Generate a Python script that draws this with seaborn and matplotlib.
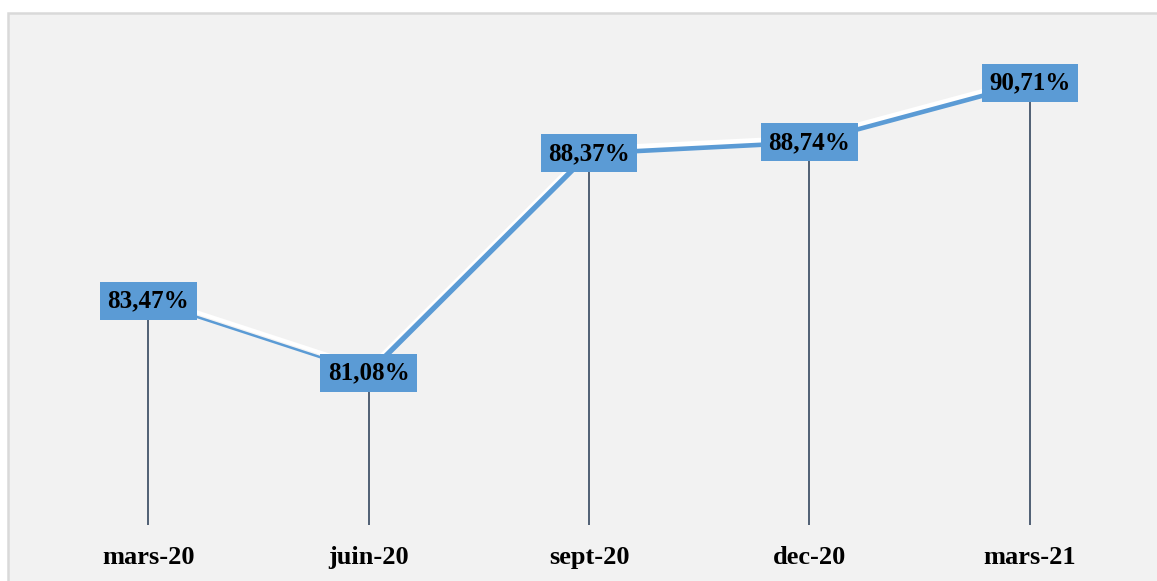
import matplotlib
matplotlib.use("Agg")
import matplotlib.pyplot as plt
import matplotlib.patheffects as pe
import seaborn as sns
import pandas as pd

# data
periods = ["mars-20", "juin-20", "sept-20", "dec-20", "mars-21"]
rates = [83.47, 81.08, 88.37, 88.74, 90.71]
labels = ["83,47%", "81,08%", "88,37%", "88,74%", "90,71%"]

df = pd.DataFrame({"x": range(len(periods)), "rate": rates})

sns.set_style("white")
plt.rcParams["font.family"] = ["Liberation Serif", "DejaVu Serif"]

fig = plt.figure(figsize=(11.57, 5.81), dpi=100)
fig.patch.set_facecolor("white")

# gray chart area with thin light border
bg = plt.Rectangle((8 / 1157, -0.01), 1.0, 1 - 13 / 581 + 0.01,
                   transform=fig.transFigure, facecolor="#f2f2f2",
                   edgecolor="#d9d9d9", linewidth=1.8, zorder=-10)
fig.patches.append(bg)

ax = fig.add_axes([38 / 1157, 56 / 581, 1102 / 1157, 485 / 581])
ax.set_facecolor("none")
ax.set_zorder(1)
ymin, ymax = 76.03, 92.14
ax.set_xlim(-0.5, 4.5)
ax.set_ylim(ymin, ymax)

# drop lines
ax.vlines(df["x"], ymin, df["rate"], color="#44546a", linewidth=1.3, zorder=1)

# line with white shadow, segment widths vary like the original
widths = [1.8, 3.8, 3.3, 3.3]
for i, w in enumerate(widths):
    seg = df.iloc[i:i + 2]
    sns.lineplot(data=seg, x="x", y="rate", ax=ax, color="#5b9bd5",
                 linewidth=w, zorder=2,
                 path_effects=[pe.SimpleLineShadow(offset=(1.0, 3.0), shadow_color="white",
                                                   alpha=1.0, rho=1.0, linewidth=w + 1.0),
                               pe.Normal()])

for xi, yi, lab in zip(df["x"], df["rate"], labels):
    ax.text(xi, yi, lab, ha="center", va="center", fontsize=18, fontweight="bold",
            color="black", zorder=3,
            bbox=dict(boxstyle="square,pad=0.3", facecolor="#5b9bd5", edgecolor="none"))

ax.set_xticks(df["x"])
ax.set_xticklabels(periods, fontsize=19, fontweight="bold", color="black")
ax.tick_params(axis="x", length=0, pad=15)
ax.set_yticks([])
ax.set_xlabel("")
ax.set_ylabel("")
for s in ax.spines.values():
    s.set_visible(False)

fig.savefig("out.png", dpi=100, facecolor=fig.get_facecolor())
